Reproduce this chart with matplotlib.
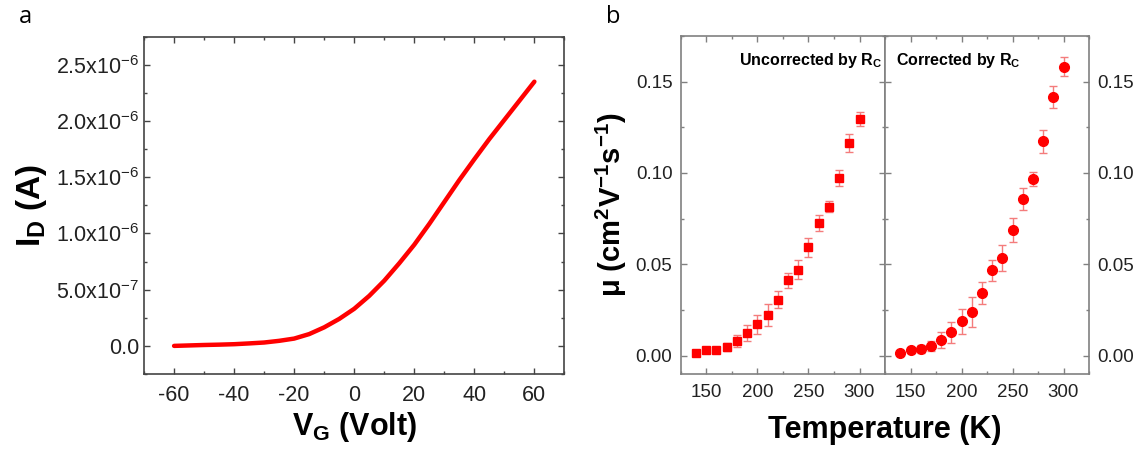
import numpy as np
import matplotlib
matplotlib.use('Agg')
import matplotlib.pyplot as plt
from matplotlib.ticker import MultipleLocator, FuncFormatter

plt.rcParams['font.family'] = ['Liberation Sans', 'DejaVu Sans']
plt.rcParams['mathtext.fontset'] = 'custom'
plt.rcParams['mathtext.rm'] = 'Liberation Sans'
plt.rcParams['mathtext.it'] = 'Liberation Sans:italic'
plt.rcParams['mathtext.bf'] = 'Liberation Sans:bold'
plt.rcParams['axes.unicode_minus'] = False

# panel a: transfer curve
vg = [-60, -55, -50, -45, -40, -35, -30, -25, -20, -15, -10, -5, 0, 5, 10,
      15, 20, 25, 30, 35, 40, 45, 50, 55, 60]
id_a = [0.0, 0.4e-8, 0.8e-8, 1.1e-8, 1.5e-8, 2.2e-8, 3.0e-8, 4.5e-8, 6.5e-8,
        1.05e-7, 1.65e-7, 2.4e-7, 3.3e-7, 4.45e-7, 5.8e-7, 7.35e-7, 9.0e-7,
        1.085e-6, 1.28e-6, 1.475e-6, 1.66e-6, 1.84e-6, 2.01e-6, 2.18e-6, 2.35e-6]

# panel b: mobility vs temperature
temp = [140, 150, 160, 170, 180, 190, 200, 210, 220, 230, 240, 250, 260,
        270, 280, 290, 300]
mu_unc = [0.0014, 0.0030, 0.0034, 0.0049, 0.0081, 0.0125, 0.0172, 0.0223,
          0.0308, 0.0413, 0.0472, 0.0595, 0.0726, 0.0816, 0.0974, 0.1164, 0.1296]
err_unc = [0.0008, 0.0010, 0.0012, 0.0024, 0.0034, 0.0045, 0.0052, 0.0060,
           0.0047, 0.0042, 0.0054, 0.0052, 0.0044, 0.0030, 0.0044, 0.0048, 0.0039]
mu_cor = [0.0014, 0.0030, 0.0038, 0.0054, 0.0087, 0.0130, 0.0188, 0.0240,
          0.0344, 0.0467, 0.0534, 0.0688, 0.0856, 0.0968, 0.1173, 0.1414, 0.1580]
err_cor = [0.0010, 0.0015, 0.0020, 0.0030, 0.0046, 0.0057, 0.0068, 0.0080,
           0.0060, 0.0056, 0.0070, 0.0064, 0.0060, 0.0039, 0.0062, 0.0061, 0.0052]

a_ticks = [0, 5e-7, 1e-6, 1.5e-6, 2e-6, 2.5e-6]
a_ticklabels = ['0.0', '5.0x10$^{-7}$', '1.0x10$^{-6}$', '1.5x10$^{-6}$',
                '2.0x10$^{-6}$', '2.5x10$^{-6}$']

fig = plt.figure(figsize=(11.37, 4.53), dpi=100)

def style_axes(ax, spine_color, labelsize):
    for s in ax.spines.values():
        s.set_color(spine_color)
        s.set_linewidth(1.2)
    ax.tick_params(which='both', direction='in', top=True, right=True,
                   color=spine_color, labelcolor='#222222', labelsize=labelsize)
    ax.tick_params(which='major', length=4.5, width=1.0)
    ax.tick_params(which='minor', length=2.5, width=1.0)

# ---- panel a
ax_a = fig.add_axes([0.1267, 0.1744, 0.3697, 0.7446])
ax_a.plot(vg, id_a, color='#ff0000', lw=3.2, solid_capstyle='round',
          solid_joinstyle='round')
ax_a.set_xlim(-70, 70)
ax_a.set_ylim(-2.5e-7, 2.75e-6)
ax_a.xaxis.set_major_locator(MultipleLocator(20))
ax_a.xaxis.set_minor_locator(MultipleLocator(10))
ax_a.set_yticks(a_ticks)
ax_a.set_yticklabels(a_ticklabels)
ax_a.yaxis.set_minor_locator(MultipleLocator(2.5e-7))
style_axes(ax_a, '#444444', 15.5)
ax_a.tick_params(axis='x', pad=8)
ax_a.set_xlabel(r'$\mathbf{V_G}$ (Volt)', fontsize=22, fontweight='bold', labelpad=3)
ax_a.set_ylabel(r'$\mathbf{I_D}$ (A)', fontsize=24, fontweight='bold', labelpad=5)

# ---- panel b
ax_b1 = fig.add_axes([0.5987, 0.174, 0.1797, 0.747])
ax_b2 = fig.add_axes([0.7784, 0.174, 0.1794, 0.747])
ecol = '#f47c7c'
ax_b1.errorbar(temp, mu_unc, yerr=err_unc, fmt='s', color='#ff0000', ms=6,
               ecolor=ecol, elinewidth=1.0, capsize=3, capthick=1.0)
ax_b2.errorbar(temp, mu_cor, yerr=err_cor, fmt='o', color='#ff0000', ms=7,
               ecolor=ecol, elinewidth=1.0, capsize=3, capthick=1.0)
for ax in (ax_b1, ax_b2):
    ax.set_xlim(125, 325)
    ax.set_ylim(-0.01, 0.175)
    ax.xaxis.set_major_locator(MultipleLocator(50))
    ax.xaxis.set_minor_locator(MultipleLocator(25))
    ax.yaxis.set_major_locator(MultipleLocator(0.05))
    ax.yaxis.set_minor_locator(MultipleLocator(0.025))
    ax.yaxis.set_major_formatter(FuncFormatter(lambda v, p: f'{v:.2f}'))
    style_axes(ax, '#808080', 13.5)
    ax.tick_params(axis='x', pad=7)
ax_b2.tick_params(axis='y', labelleft=False, labelright=True, pad=6)
ax_b1.tick_params(axis='y', pad=6)

ax_b1.text(0.985, 0.955, r'Uncorrected by R$_\mathbf{C}$', transform=ax_b1.transAxes,
           ha='right', va='top', fontsize=11.5, fontweight='bold')
ax_b2.text(0.055, 0.955, r'Corrected by R$_\mathbf{C}$', transform=ax_b2.transAxes,
           ha='left', va='top', fontsize=11.5, fontweight='bold')
ax_b1.set_ylabel(r'μ (cm$^\mathbf{2}$V$^\mathbf{-1}$s$^\mathbf{-1}$)', fontsize=21,
                 fontweight='bold', labelpad=5)
fig.text(0.7784, 0.05, 'Temperature (K)', ha='center', va='center',
         fontsize=22, fontweight='bold')

# panel letters
fig.text(0.022, 0.962, 'a', fontsize=17, ha='center', va='center', family='Open Sans')
fig.text(0.539, 0.962, 'b', fontsize=17, ha='center', va='center', family='Open Sans')

fig.savefig('out.png', dpi=100)
